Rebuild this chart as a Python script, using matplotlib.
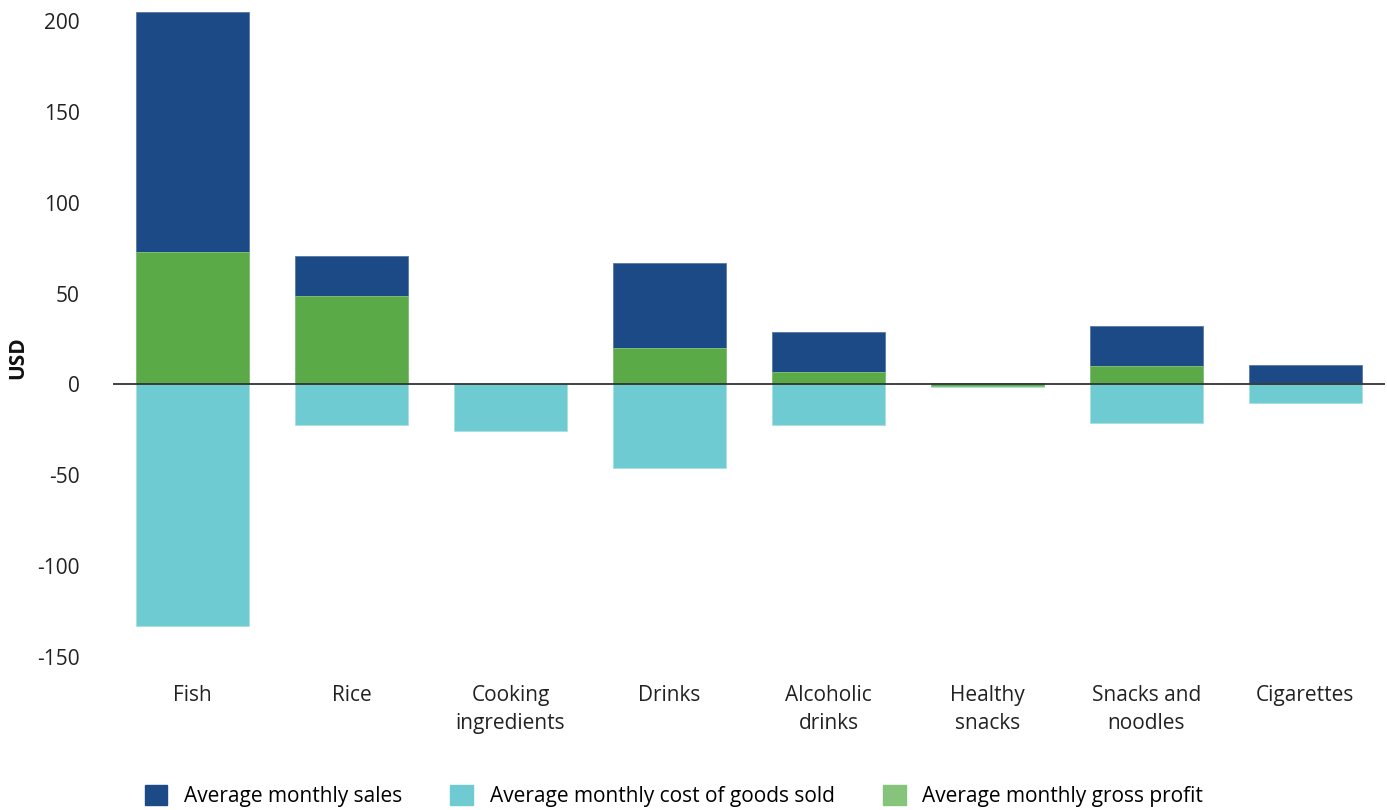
import matplotlib
matplotlib.use("Agg")
import matplotlib.pyplot as plt
from matplotlib.patches import Patch
import numpy as np

categories = ["Fish", "Rice", "Cooking\ningredients", "Drinks", "Alcoholic\ndrinks",
              "Healthy\nsnacks", "Snacks and\nnoodles", "Cigarettes"]
sales = [205, 71, 0, 67, 29, 1, 32, 10.5]
cost = [-133, -22.5, -25.5, -46, -22.5, -1.5, -21, -10]
profit = [73, 48.5, 0, 20, 7, -1, 10, 0.8]
yticks = [-150, -100, -50, 0, 50, 100, 150, 200]

c_sales = "#1B4A87"
c_cost = "#6FCBD2"
c_profit = "#5AAA47"
c_profit_leg = "#85C47A"

plt.rcParams['font.family'] = ['Open Sans', 'DejaVu Sans']

fig = plt.figure(figsize=(13.87, 8.10), dpi=100)
ax = fig.add_axes([0.0815, 0.189, 0.917, 0.796])

x = np.arange(len(categories))
w = 0.71
ax.bar(x, sales, w, color=c_sales, edgecolor="#5878A6", linewidth=0.6, zorder=2)
ax.bar(x, cost, w, color=c_cost, edgecolor="#A8E0E4", linewidth=0.6, zorder=2)
ax.bar(x, profit, w, color=c_profit, edgecolor="#8CC67C", linewidth=0.6, zorder=3)
ax.axhline(0, color="#333333", linewidth=1.3, zorder=4)

ax.set_xlim(-0.5, len(categories) - 0.5)
ax.set_ylim(-150, 205)
ax.set_yticks(yticks)
ax.set_yticklabels([str(t) for t in yticks], fontsize=15, color="#222222")
ax.set_xticks(x)
ax.set_xticklabels(categories, fontsize=15, color="#222222", linespacing=1.45)
ax.tick_params(axis='x', length=0, pad=20)
ax.tick_params(axis='y', length=0, pad=24)
for s in ax.spines.values():
    s.set_visible(False)
fig.text(18 / 1387, 1 - 358 / 810, "USD", fontsize=15, fontweight="bold",
         rotation=90, ha="center", va="center", color="#111111")

handles = [Patch(color=c_sales, label="Average monthly sales"),
           Patch(color=c_cost, label="Average monthly cost of goods sold"),
           Patch(color=c_profit_leg, label="Average monthly gross profit")]
fig.legend(handles=handles, loc="lower left", bbox_to_anchor=(0.0907, -0.02), ncol=3,
           frameon=False, fontsize=15, handlelength=1.1, handleheight=1.1,
           columnspacing=2.3, handletextpad=0.8)

fig.savefig("out.png", dpi=100)
